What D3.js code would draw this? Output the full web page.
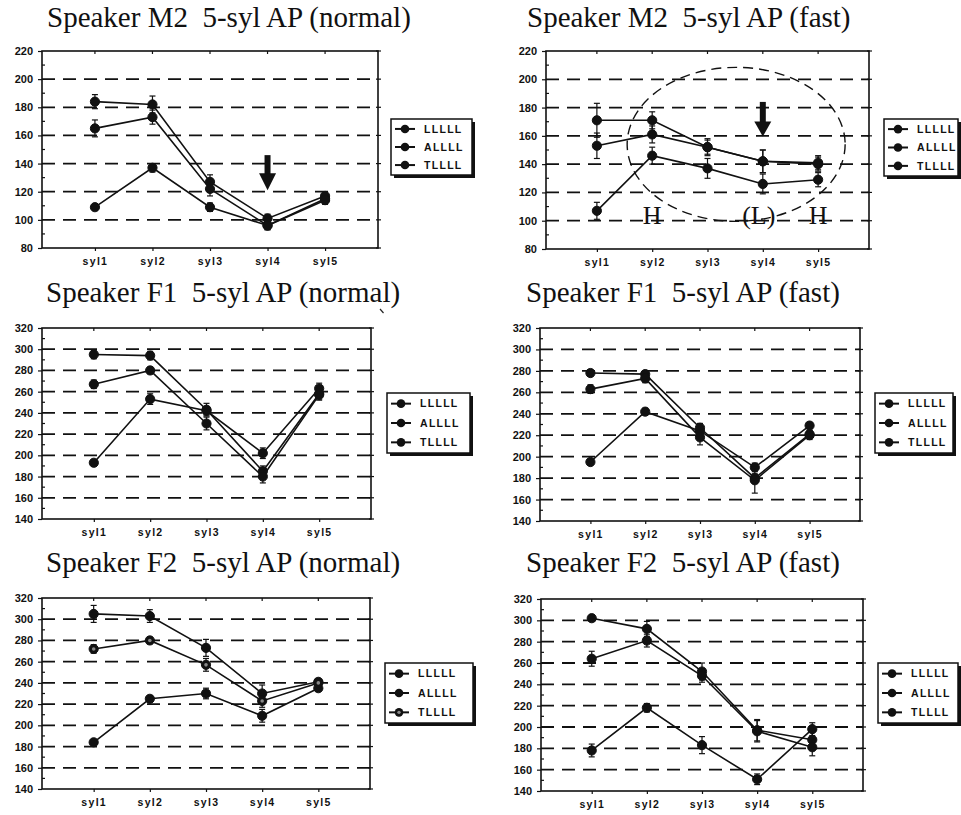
<!DOCTYPE html>
<html>
<head>
<meta charset="utf-8">
<script src="https://cdn.jsdelivr.net/npm/d3@7"></script>
<style>
  body { margin: 0; background: #fff; }
  svg { display: block; }
</style>
</head>
<body>
<svg id="chart" width="961" height="815"></svg>
<script>
// data (F0 in Hz, mean and error bar half-length)
const syllables = ["syl1", "syl2", "syl3", "syl4", "syl5"];
const seriesNames = ["LLLLL", "ALLLL", "TLLLL"];
const titles = [
    "Speaker M2  5-syl AP (normal)", "Speaker M2  5-syl AP (fast)",
    "Speaker F1  5-syl AP (normal)", "Speaker F1  5-syl AP (fast)",
    "Speaker F2  5-syl AP (normal)", "Speaker F2  5-syl AP (fast)"
];
const maleTicks = [80, 100, 120, 140, 160, 180, 200, 220];
const femaleTicks = [140, 160, 180, 200, 220, 240, 260, 280, 300, 320];

// order of rows = seriesNames
const m2Normal = [[109, 137, 109, 96, 115], [184, 182, 127, 101, 117], [165, 173, 122, 96, 114]];
const m2NormalErr = [[2, 3, 3, 3, 2], [5, 6, 5, 3, 3], [6, 5, 5, 3, 3]];
const m2Fast = [[107, 146, 137, 126, 129], [171, 171, 152, 142, 141], [153, 161, 152, 142, 140]];
const m2FastErr = [[6, 6, 7, 7, 5], [12, 6, 6, 8, 5], [9, 6, 5, 8, 5]];
const f1Normal = [[193, 253, 242, 202, 263], [295, 294, 243, 185, 258], [267, 280, 230, 180, 257]];
const f1NormalErr = [[3, 5, 4, 5, 5], [4, 4, 6, 5, 5], [4, 3, 6, 6, 5]];
const f1Fast = [[195, 242, 224, 190, 229], [278, 277, 227, 180, 221], [263, 273, 218, 178, 220]];
const f1FastErr = [[2, 3, 4, 4, 3], [3, 3, 4, 4, 3], [4, 4, 7, 12, 4]];
const f2Normal = [[184, 225, 230, 209, 235], [305, 303, 273, 230, 241], [272, 280, 257, 223, 240]];
const f2NormalErr = [[2, 3, 5, 6, 3], [8, 6, 8, 8, 3], [4, 3, 6, 6, 3]];
const f2Fast = [[178, 218, 183, 151, 198], [302, 292, 252, 197, 188], [264, 281, 248, 196, 181]];
const f2FastErr = [[6, 4, 8, 5, 6], [3, 7, 8, 10, 8], [7, 6, 6, 10, 8]];

// annotations
const arrowSyl = "syl4";
const arrowNormal = [146, 121];       // top of shaft, tip (Hz)
const arrowFast = [184, 159.5];
const toneLabels = ["H", "(L)", "H"];
const toneSyls = ["syl2", "syl4", "syl5"];

// layout
const panels = [
    {means: m2Normal, err: m2NormalErr, ticks: maleTicks, x0: 42, x1: 378, y0: 51, y1: 248, tx: 47, ty: 26.5, lg: [391, 119, 81, 56]},
    {means: m2Fast, err: m2FastErr, ticks: maleTicks, x0: 546, x1: 869, y0: 51, y1: 249, tx: 527, ty: 26.5, lg: [884, 119, 74, 57]},
    {means: f1Normal, err: f1NormalErr, ticks: femaleTicks, x0: 42, x1: 371, y0: 328, y1: 519, tx: 46, ty: 301.5, lg: [387, 393, 83, 60]},
    {means: f1Fast, err: f1FastErr, ticks: femaleTicks, x0: 540, x1: 860, y0: 328, y1: 521, tx: 526, ty: 301.5, lg: [875, 393, 78, 60]},
    {means: f2Normal, err: f2NormalErr, ticks: femaleTicks, x0: 42, x1: 370, y0: 598, y1: 789, tx: 46, ty: 571.5, lg: [385, 663, 88, 60]},
    {means: f2Fast, err: f2FastErr, ticks: femaleTicks, x0: 541, x1: 863, y0: 599, y1: 791, tx: 526, ty: 571.5, lg: [878, 663, 80, 60]}
];

const svg = d3.select("#chart");
svg.append("rect").attr("width", 961).attr("height", 815).attr("fill", "#fff");

const sansBold = "'Liberation Sans', Arial, sans-serif";
const serif = "'Liberation Serif', 'Times New Roman', serif";

panels.forEach((p, pi) => {
    const g = svg.append("g");
    const x = d3.scalePoint().domain(syllables).range([p.x0, p.x1]).padding(0.92);
    const y = d3.scaleLinear().domain(d3.extent(p.ticks)).range([p.y1, p.y0]);

    // title
    g.append("text")
        .attr("x", p.tx).attr("y", p.ty)
        .attr("font-family", serif)
        .attr("font-size", 29)
        .style("white-space", "pre")
        .attr("fill", "#111")
        .text(titles[pi]);

    // dashed grid
    g.append("g").selectAll("line")
        .data(p.ticks.slice(1, -1))
        .join("line")
        .attr("x1", p.x0).attr("x2", p.x1)
        .attr("y1", d => y(d)).attr("y2", d => y(d))
        .attr("stroke", "#111").attr("stroke-width", 1.8)
        .attr("stroke-dasharray", "13,8");

    // frame
    g.append("rect")
        .attr("x", p.x0).attr("y", p.y0)
        .attr("width", p.x1 - p.x0).attr("height", p.y1 - p.y0)
        .attr("fill", "none").attr("stroke", "#111").attr("stroke-width", 1.6);

    // left axis
    const yAxis = d3.axisLeft(y).tickValues(p.ticks).tickSize(4).tickPadding(5);
    const ya = g.append("g").attr("transform", `translate(${p.x0},0)`).call(yAxis);
    ya.select(".domain").remove();
    ya.selectAll("line").attr("stroke", "#111").attr("stroke-width", 1.2);
    ya.selectAll("text")
        .attr("font-family", sansBold).attr("font-weight", "bold")
        .attr("font-size", 11).attr("fill", "#111");

    // minor ticks inside left axis and small ticks outside right frame
    const minor = d3.range(p.ticks[0] + 10, p.ticks[p.ticks.length - 1], 20);
    g.append("g").selectAll("line").data(minor).join("line")
        .attr("x1", p.x0).attr("x2", p.x0 + 3)
        .attr("y1", d => y(d)).attr("y2", d => y(d))
        .attr("stroke", "#111").attr("stroke-width", 1.2);
    g.append("g").selectAll("line").data(p.ticks).join("line")
        .attr("x1", p.x1 - 2).attr("x2", p.x1 + 3)
        .attr("y1", d => y(d)).attr("y2", d => y(d))
        .attr("stroke", "#111").attr("stroke-width", 1.2);

    // bottom axis
    const xAxis = d3.axisBottom(x).tickSize(3).tickPadding(7);
    const xa = g.append("g").attr("transform", `translate(0,${p.y1})`).call(xAxis);
    xa.select(".domain").remove();
    xa.selectAll("line").attr("stroke", "#111").attr("stroke-width", 1.2);
    xa.selectAll("text")
        .attr("font-family", sansBold).attr("font-weight", "bold")
        .attr("font-size", 10.5).attr("letter-spacing", 1.3).attr("fill", "#111");
    g.append("g").selectAll("line").data(syllables).join("line")
        .attr("x1", d => x(d)).attr("x2", d => x(d))
        .attr("y1", p.y0).attr("y2", p.y0 + 3)
        .attr("stroke", "#111").attr("stroke-width", 1.2);

    // dashed ellipse on M2 fast
    if (pi === 1) {
        g.append("ellipse")
            .attr("cx", (x("syl2") + x("syl5")) / 2 + 1)
            .attr("cy", y(154))
            .attr("rx", 109).attr("ry", 77)
            .attr("fill", "none").attr("stroke", "#111")
            .attr("stroke-width", 1.4).attr("stroke-dasharray", "10,6");
    }

    const line = d3.line().x((d, i) => x(syllables[i])).y(d => y(d));

    // series lines
    g.append("g").selectAll("path")
        .data(p.means)
        .join("path")
        .attr("d", d => line(d))
        .attr("fill", "none").attr("stroke", "#111").attr("stroke-width", 1.6);

    // error bars and markers
    p.means.forEach((s, si) => {
        const pts = s.map((v, i) => ({syl: syllables[i], v: v, e: p.err[si][i]}));
        const eb = g.append("g");
        eb.selectAll("line.v").data(pts).join("line").attr("class", "v")
            .attr("x1", d => x(d.syl)).attr("x2", d => x(d.syl))
            .attr("y1", d => y(d.v + d.e)).attr("y2", d => y(d.v - d.e))
            .attr("stroke", "#111").attr("stroke-width", 1.2);
        ["t", "b"].forEach(k => {
            eb.selectAll("line." + k).data(pts).join("line").attr("class", k)
                .attr("x1", d => x(d.syl) - 3).attr("x2", d => x(d.syl) + 3)
                .attr("y1", d => y(k === "t" ? d.v + d.e : d.v - d.e))
                .attr("y2", d => y(k === "t" ? d.v + d.e : d.v - d.e))
                .attr("stroke", "#111").attr("stroke-width", 1.2);
        });
        g.append("g").selectAll("circle").data(pts).join("circle")
            .attr("cx", d => x(d.syl)).attr("cy", d => y(d.v))
            .attr("r", 4.6)
            .attr("fill", "#111")
            .attr("stroke", "#111").attr("stroke-width", 1);
        // open-centred markers for TLLLL in the F2 normal panel
        if (si === 2 && pi === 4) {
            g.append("g").selectAll("circle").data(pts).join("circle")
                .attr("cx", d => x(d.syl)).attr("cy", d => y(d.v))
                .attr("r", 1.8).attr("fill", "#888");
        }
    });

    // arrow on M2 panels
    if (pi < 2) {
        const a = pi === 0 ? arrowNormal : arrowFast;
        const ax = x(arrowSyl);
        const top = y(a[0]), tip = y(a[1]);
        const headH = pi === 0 ? 17 : 15;
        g.append("rect")
            .attr("x", ax - 3).attr("y", top)
            .attr("width", 6).attr("height", tip - headH - top + 1)
            .attr("fill", "#111");
        g.append("path")
            .attr("d", `M${ax - 8.5},${tip - headH} L${ax + 8.5},${tip - headH} L${ax},${tip} Z`)
            .attr("fill", "#111");
    }

    // tone labels on M2 fast
    if (pi === 1) {
        g.append("g").selectAll("text")
            .data(toneLabels)
            .join("text")
            .attr("x", (d, i) => x(toneSyls[i]) + (i === 1 ? -4 : 0))
            .attr("y", y(98))
            .attr("text-anchor", "middle")
            .attr("font-family", serif)
            .attr("font-size", 26)
            .attr("fill", "#111")
            .text(d => d);
    }

    // legend with drop shadow
    const [lx, ly, lw, lh] = p.lg;
    const lg = g.append("g").attr("transform", `translate(${lx},${ly})`);
    lg.append("rect").attr("x", 3).attr("y", 3).attr("width", lw).attr("height", lh).attr("fill", "#111");
    lg.append("rect").attr("width", lw).attr("height", lh)
        .attr("fill", "#fff").attr("stroke", "#111").attr("stroke-width", 1.5);
    const step = lh / 3.1;
    const rows = lg.selectAll("g.row").data(seriesNames).join("g").attr("class", "row")
        .attr("transform", (d, i) => `translate(0,${lh / 2 + (i - 1) * step})`);
    rows.append("line").attr("x1", 4).attr("x2", 24).attr("stroke", "#111").attr("stroke-width", 2);
    rows.append("circle").attr("cx", 14).attr("r", 4.3).attr("fill", "#111");
    rows.filter((d, i) => i === 2 && pi === 4).append("circle")
        .attr("cx", 14).attr("r", 1.7).attr("fill", "#888");
    rows.append("text")
        .attr("x", 33).attr("dy", "0.35em")
        .attr("font-family", sansBold).attr("font-weight", "bold")
        .attr("font-size", 10.5).attr("letter-spacing", 1.3).attr("fill", "#111")
        .text(d => d);
});

// stray pen mark under the F1 normal title
svg.append("line").attr("x1", 380).attr("y1", 309).attr("x2", 383.5).attr("y2", 313)
    .attr("stroke", "#222").attr("stroke-width", 1.2);
</script>
</body>
</html>
